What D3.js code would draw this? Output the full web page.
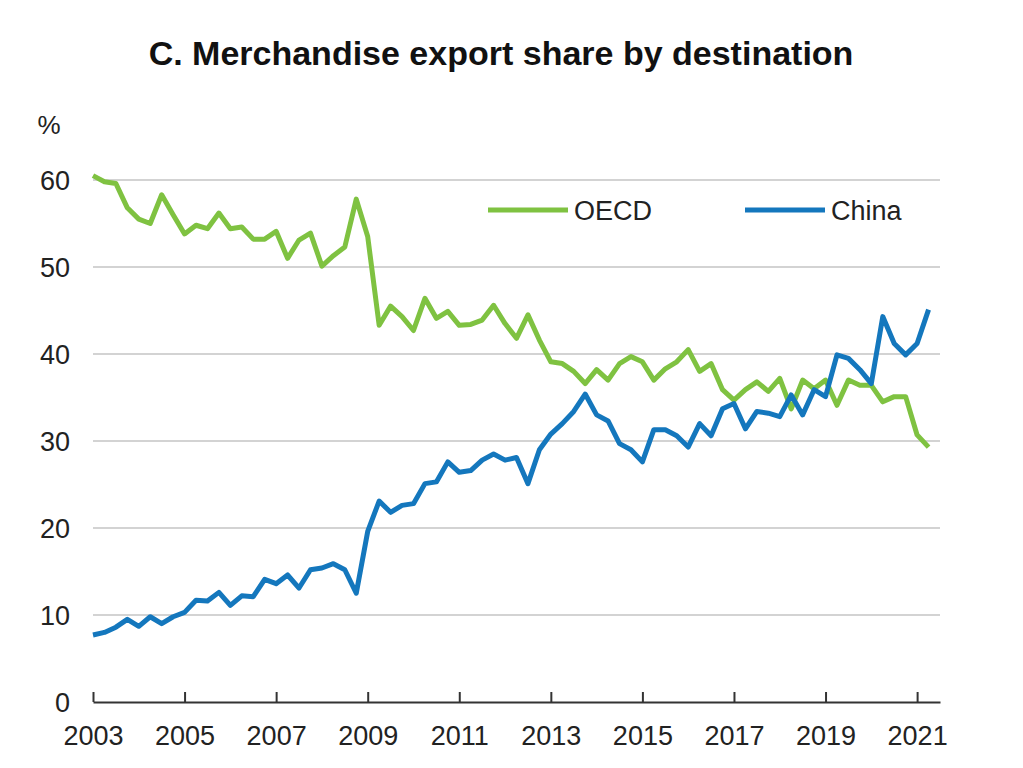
<!DOCTYPE html>
<html>
<head>
<meta charset="utf-8">
<script src="https://cdn.jsdelivr.net/npm/d3@7"></script>
<style>
  html, body { margin: 0; padding: 0; background: #fff; }
  svg { display: block; font-family: "Liberation Sans", Arial, sans-serif; }
</style>
</head>
<body>
<svg id="chart" width="1023" height="768"></svg>
<script>
// ---- Data (quarterly, 2003Q1 - 2021Q2) ----
const startYear = 2003;
const oecd = [
  60.5, 59.8, 59.6, 56.8,
  55.5, 55.0, 58.3, 56.0,
  53.8, 54.8, 54.4, 56.2,
  54.4, 54.6, 53.2, 53.2,
  54.1, 51.0, 53.1, 53.9,
  50.1, 51.3, 52.3, 57.8,
  53.5, 43.3, 45.5, 44.3,
  42.7, 46.4, 44.1, 44.9,
  43.3, 43.4, 43.9, 45.6,
  43.5, 41.8, 44.5, 41.6,
  39.1, 38.9, 38.0, 36.6,
  38.2, 37.0, 38.9, 39.7,
  39.1, 37.0, 38.3, 39.1,
  40.5, 38.0, 38.9, 35.9,
  34.7, 35.9, 36.8, 35.7,
  37.2, 33.7, 37.0, 36.0,
  37.0, 34.1, 37.0, 36.4,
  36.4, 34.5, 35.1, 35.1,
  30.7, 29.3
];
const china = [
  7.7, 8.0, 8.6, 9.5,
  8.7, 9.8, 9.0, 9.8,
  10.3, 11.7, 11.6, 12.6,
  11.1, 12.2, 12.1, 14.1,
  13.6, 14.6, 13.1, 15.2,
  15.4, 15.9, 15.2, 12.5,
  19.6, 23.1, 21.8, 22.6,
  22.8, 25.1, 25.3, 27.6,
  26.4, 26.6, 27.8, 28.5,
  27.8, 28.1, 25.1, 29.0,
  30.8, 32.0, 33.4, 35.4,
  33.0, 32.3, 29.7, 29.0,
  27.6, 31.3, 31.3, 30.6,
  29.3, 32.0, 30.6, 33.7,
  34.3, 31.4, 33.4, 33.2,
  32.8, 35.3, 33.0, 35.9,
  35.1, 39.9, 39.5, 38.2,
  36.6, 44.3, 41.2, 39.9,
  41.2, 45.1
];
const seriesNames = ["OECD", "China"];
const seriesColors = ["#7fc241", "#1477bd"];
const yTicks = [0, 10, 20, 30, 40, 50, 60];
const xTicks = [2003, 2005, 2007, 2009, 2011, 2013, 2015, 2017, 2019, 2021];
const title = "C. Merchandise export share by destination";
const yUnit = "%";

// ---- Chart ----
const svg = d3.select("#chart");
const x = d3.scaleLinear().domain([2003, 2021.5]).range([93, 940]);
const y = d3.scaleLinear().domain([0, 60]).range([702, 180]);

const toPts = arr => arr.map((v, i) => ({ t: startYear + i / 4, v }));

svg.append("text")
  .attr("x", 501).attr("y", 65)
  .attr("text-anchor", "middle")
  .attr("font-size", 34).attr("font-weight", "bold")
  .attr("fill", "#111")
  .text(title);

// gridlines
svg.append("g").selectAll("line")
  .data(yTicks.filter(d => d > 0))
  .join("line")
  .attr("x1", x.range()[0]).attr("x2", x.range()[1])
  .attr("y1", d => y(d)).attr("y2", d => y(d))
  .attr("stroke", "#d3d3d3").attr("stroke-width", 2);

// y labels
svg.append("g").selectAll("text")
  .data(yTicks)
  .join("text")
  .attr("x", 70).attr("y", d => y(d))
  .attr("dy", "0.36em")
  .attr("text-anchor", "end")
  .attr("font-size", 27).attr("fill", "#222")
  .text(d => d);

svg.append("text")
  .attr("x", 49).attr("y", 125).attr("dy", "0.36em")
  .attr("text-anchor", "middle")
  .attr("font-size", 26).attr("fill", "#222")
  .text(yUnit);

// x axis
const xAxis = d3.axisBottom(x)
  .tickValues(xTicks)
  .tickFormat(d3.format("d"))
  .tickSizeInner(-10).tickSizeOuter(0).tickPadding(20);
const gx = svg.append("g").attr("transform", `translate(0,${y(0)})`).call(xAxis);
gx.select(".domain").attr("stroke", "#333").attr("stroke-width", 2);
gx.selectAll(".tick line").attr("stroke", "#333").attr("stroke-width", 2);
gx.selectAll(".tick text")
  .attr("font-size", 27).attr("fill", "#222")
  .attr("font-family", "Liberation Sans, Arial, sans-serif")
  .attr("dy", "0.85em");

// lines
const line = d3.line().x(d => x(d.t)).y(d => y(d.v));
[oecd, china].forEach((arr, i) => {
  svg.append("path")
    .datum(toPts(arr))
    .attr("fill", "none")
    .attr("stroke", seriesColors[i])
    .attr("stroke-width", 5)
    .attr("stroke-linejoin", "round")
    .attr("d", line);
});

// legend
const legendX = [488, 745];
seriesNames.forEach((name, i) => {
  const g = svg.append("g").attr("transform", `translate(${legendX[i]},210)`);
  g.append("line").attr("x1", 0).attr("x2", 80).attr("y1", 0).attr("y2", 0)
    .attr("stroke", seriesColors[i]).attr("stroke-width", 5);
  g.append("text").attr("x", 86).attr("y", 0).attr("dy", "0.36em")
    .attr("font-size", 27).attr("fill", "#222").text(name);
});
</script>
</body>
</html>
